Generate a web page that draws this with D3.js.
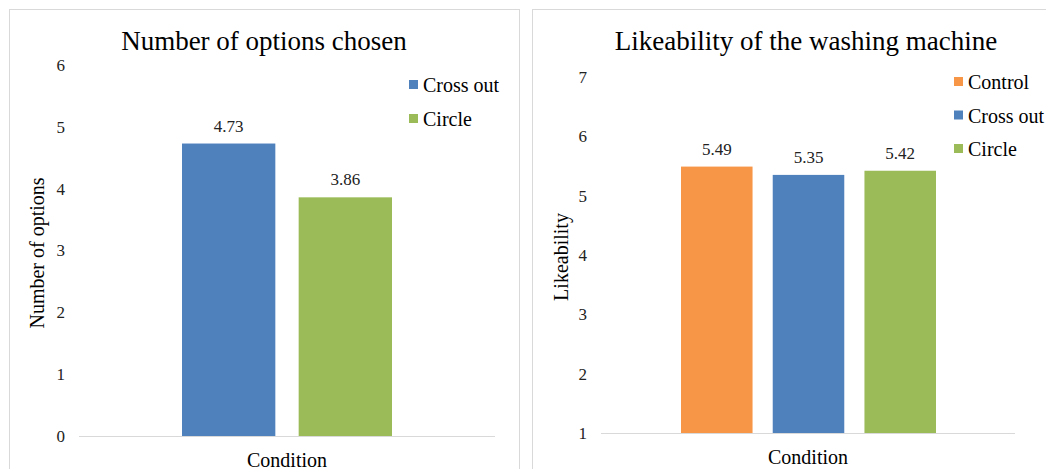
<!DOCTYPE html>
<html>
<head>
<meta charset="utf-8">
<script src="https://cdn.jsdelivr.net/npm/d3@7"></script>
<style>
  html, body { margin: 0; padding: 0; background: #fff; }
  svg { display: block; }
  svg text { font-family: "Liberation Serif", "Times New Roman", serif; }
</style>
</head>
<body>
<svg id="chart" width="1046" height="469"></svg>
<script>
// Left panel: number of options chosen
const optionsSeries = ["Cross out", "Circle"];
const optionsValues = [4.73, 3.86];
const optionsTicks = [0, 1, 2, 3, 4, 5, 6];

// Right panel: likeability of the washing machine
const likeSeries = ["Control", "Cross out", "Circle"];
const likeValues = [5.49, 5.35, 5.42];
const likeTicks = [1, 2, 3, 4, 5, 6, 7];

const seriesColors = {
  "Control": "#f79646",
  "Cross out": "#4f81bd",
  "Circle": "#9bbb59"
};

const svg = d3.select("#chart");

function drawPanel(cfg) {
  const g = svg.append("g");

  // panel frame
  g.append("rect")
    .attr("x", cfg.frame[0] + 0.5).attr("y", cfg.frame[1] + 0.5)
    .attr("width", cfg.frame[2]).attr("height", cfg.frame[3])
    .attr("fill", "#fff").attr("stroke", "#d9d9d9").attr("stroke-width", 1);

  const y = d3.scaleLinear().domain(cfg.domain).range([cfg.plot.bottom, cfg.plot.top]);
  const x = d3.scaleBand()
    .domain(cfg.series)
    .range(cfg.barRange)
    .paddingInner(cfg.padInner)
    .paddingOuter(0);

  // title
  g.append("text")
    .attr("x", cfg.titleX).attr("y", cfg.titleY)
    .attr("text-anchor", "middle")
    .style("font-size", "27px").attr("fill", "#000")
    .text(cfg.title);

  // y axis tick labels
  const yAxis = d3.axisLeft(y).tickValues(cfg.ticks).tickSize(0).tickPadding(0)
    .tickFormat(d3.format("d"));
  const ya = g.append("g")
    .attr("transform", `translate(${cfg.tickLabelX},0)`)
    .call(yAxis);
  ya.select(".domain").remove();
  ya.selectAll("text")
    .style("font-family", "'Liberation Serif', 'Times New Roman', serif")
    .style("font-size", "17px").attr("fill", "#222");

  // baseline
  g.append("line")
    .attr("x1", cfg.plot.left).attr("x2", cfg.plot.right)
    .attr("y1", y(cfg.domain[0]) + 0.5).attr("y2", y(cfg.domain[0]) + 0.5)
    .attr("stroke", "#d9d9d9").attr("stroke-width", 1);

  // bars
  const data = cfg.series.map((s, i) => ({ s, v: cfg.values[i] }));
  g.selectAll("rect.bar").data(data).join("rect")
    .attr("class", "bar")
    .attr("x", d => x(d.s))
    .attr("width", x.bandwidth())
    .attr("y", d => y(d.v))
    .attr("height", d => y(cfg.domain[0]) - y(d.v))
    .attr("fill", d => seriesColors[d.s]);

  // value labels
  g.selectAll("text.val").data(data).join("text")
    .attr("class", "val")
    .attr("x", d => x(d.s) + x.bandwidth() / 2)
    .attr("y", d => y(d.v) - 12)
    .attr("text-anchor", "middle")
    .style("font-size", "17px").attr("fill", "#222")
    .text(d => d3.format(".2f")(d.v));

  // axis titles
  g.append("text")
    .attr("transform", `translate(${cfg.yTitleX},${cfg.yTitleY}) rotate(-90)`)
    .attr("text-anchor", "middle")
    .style("font-size", "20px").attr("fill", "#000")
    .text(cfg.yTitle);

  g.append("text")
    .attr("x", (cfg.plot.left + cfg.plot.right) / 2).attr("y", cfg.xTitleY)
    .attr("text-anchor", "middle")
    .style("font-size", "20px").attr("fill", "#000")
    .text("Condition");

  // legend
  const lg = g.append("g").attr("transform", `translate(${cfg.legendX},${cfg.legendY})`);
  cfg.series.forEach((s, i) => {
    const row = lg.append("g").attr("transform", `translate(0,${i * cfg.legendStep})`);
    row.append("rect")
      .attr("x", 0).attr("y", -12).attr("width", 9).attr("height", 9)
      .attr("fill", seriesColors[s]);
    row.append("text")
      .attr("x", 14).attr("y", 0)
      .style("font-size", "20px").attr("fill", "#000")
      .text(s);
  });
}

drawPanel({
  frame: [9, 9, 510, 470],
  title: "Number of options chosen",
  titleX: 264, titleY: 50,
  yTitle: "Number of options",
  series: optionsSeries,
  values: optionsValues,
  ticks: optionsTicks,
  domain: [0, 6],
  plot: { left: 79, right: 495, top: 65, bottom: 436 },
  barRange: [182, 392],
  padInner: 0.2,
  tickLabelX: 65,
  yTitleX: 44, yTitleY: 253,
  xTitleY: 467,
  legendX: 409, legendY: 92, legendStep: 34
});

drawPanel({
  frame: [532, 9, 520, 470],
  title: "Likeability of the washing machine",
  titleX: 806, titleY: 50,
  yTitle: "Likeability",
  series: likeSeries,
  values: likeValues,
  ticks: likeTicks,
  domain: [1, 7],
  plot: { left: 601, right: 1015, top: 77, bottom: 433 },
  barRange: [681, 936],
  padInner: 0.22,
  tickLabelX: 587,
  yTitleX: 568, yTitleY: 257,
  xTitleY: 464,
  legendX: 954, legendY: 89, legendStep: 33.5
});
</script>
</body>
</html>
